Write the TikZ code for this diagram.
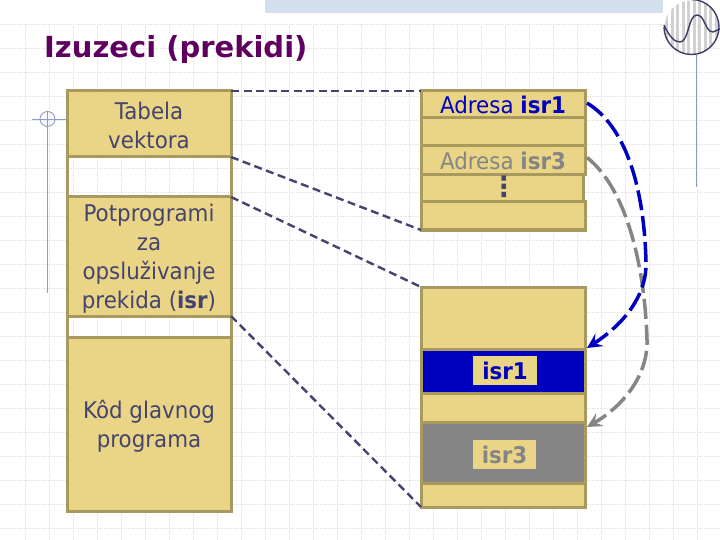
\documentclass[tikz,border=0pt]{standalone}
\usepackage{fontspec}
\setmainfont{DejaVu Sans}[FakeStretch=0.93]
\newfontfamily\titlefont{DejaVu Sans}
\usetikzlibrary{arrows.meta}
\definecolor{sand}{HTML}{EAD586}
\definecolor{edgec}{HTML}{A89A5E}
\definecolor{inkc}{HTML}{44446E}
\definecolor{bluec}{HTML}{0000C0}
\definecolor{grayc}{HTML}{858585}
\definecolor{titlec}{HTML}{5F0060}
\definecolor{bandc}{HTML}{D3DFEC}
\definecolor{gridc}{HTML}{E4E4E4}
\definecolor{decoc}{HTML}{8C9CC4}
\tikzset{
  x=1pt,y=-1pt,
  cell/.style={draw=edgec,line width=3pt,fill=sand,inner sep=0pt,outer sep=0pt},
  blank/.style={cell,fill=none},
  words/.style={inner sep=0pt,align=center,text=inkc,font=\fontsize{23}{29}\selectfont},
  tag/.style={fill=sand,inner sep=0pt,minimum width=64pt,minimum height=29pt,font=\fontsize{23}{29}\selectfont\bfseries},
  link/.style={draw=inkc,line width=2.4pt,dash pattern=on 8pt off 4.5pt},
  jump/.style={line width=3.5pt,dash pattern=on 20pt off 6pt,-{Stealth[length=15pt,width=15pt,inset=6pt]}},
}
\newcommand{\cellat}[6]{\node[#1,minimum width=#4pt-#3pt,minimum height=#6pt-#5pt] (#2) at ({(#3+#4)/2},{(#5+#6)/2}) {};}
\begin{document}
\begin{tikzpicture}
\useasboundingbox (0,0) rectangle (720,540);
\fill[white] (0,0) rectangle (720,540);
% background grid
\foreach \k in {1,...,29} \draw[gridc,line width=.7pt,densely dotted] (24*\k+1,24) -- (24*\k+1,540);
\foreach \k in {1,...,22} \draw[gridc,line width=.7pt,densely dotted] (0,24*\k) -- (720,24*\k);
\fill[bandc] (265,0) rectangle (663,13);
% logo
\begin{scope}
  \clip (691.5,27.5) circle (27);
  \foreach \k in {0,...,9} \fill[black!18] (665+5.5*\k,0) rectangle (668+5.5*\k,56);
\end{scope}
\draw[inkc!90!black,line width=1.4pt] (664,27) arc (180:0:27.5);
\draw[inkc!90!black,line width=1.4pt] (719,27) arc (0:-90:27.5);
\draw[inkc!90!black,line width=1.4pt] (664,25) .. controls (670,38) and (675,42) .. (680,42)
  .. controls (689,42) and (688,15) .. (697,15) .. controls (705,15) and (705,32) .. (713,32) -- (720,29);
\draw[decoc,line width=.9pt] (696.5,55) -- (696.5,187);
% left ornament
\draw[decoc,line width=.9pt] (47.5,111) -- (47.5,293);
\draw[decoc,line width=.9pt] (32,119) -- (66,119);
\draw[decoc,line width=.9pt] (47.5,119) circle (7.5);
% title
\node[anchor=base west,inner sep=0pt,text=titlec,font=\titlefont\fontsize{29}{32}\selectfont\bfseries] (title) at (44,58) {Izuzeci (prekidi)};
% left column
\cellat{cell}{tab}{67}{231}{91}{157}
\cellat{blank}{gapa}{67}{231}{157}{197}
\cellat{cell}{pot}{67}{231}{197}{316}
\cellat{blank}{gapb}{67}{231}{316}{337}
\cellat{cell}{kod}{67}{231}{337}{511}
\node[words] (tabt) at (149,125) {Tabela\\vektora};
\node[words] (pott) at (149,258.5) {Potprogrami\\za\\opslu\v{z}ivanje\\prekida (\textbf{isr})};
\node[words] (kodt) at (149,426) {K\^od glavnog\\programa};
% right upper column
\cellat{cell}{aone}{421}{585}{91}{118}
\node[words,text=bluec] (aonet) at (503,105) {Adresa \textbf{isr1}};
\cellat{cell}{atwo}{421}{585}{118}{146}
\cellat{cell}{adots}{421}{583}{175}{202}
\cellat{cell}{athree}{421}{585}{146}{175}
\node[words,text=grayc] (athreet) at (503,161) {Adresa \textbf{isr3}};
\cellat{cell}{afive}{421}{585}{202}{230}
\node[words,font=\fontsize{28}{30}\selectfont\bfseries] (dots) at (504,187) {⋮};
% right lower column
\cellat{cell}{lowa}{421}{585}{287}{349}
\cellat{cell,fill=bluec}{lowone}{421}{585}{349}{393}
\cellat{cell}{lowb}{421}{585}{393}{422}
\cellat{cell,fill=grayc}{lowthree}{421}{585}{422}{483}
\cellat{cell}{lowc}{421}{585}{483}{507}
\node[tag,text=bluec] (tone) at (505,370.5) {isr1};
\node[tag,text=grayc,minimum width=63pt] (tthree) at (504.5,454.5) {isr3};
% dashed links
\draw[link] (tab.north east) -- (aone.north west);
\draw[link] (tab.south east) -- (afive.south west);
\draw[link] (pot.north east) -- (lowa.north west);
\draw[link] (pot.south east) -- (lowc.south west);
% jumps
\coordinate (gmid) at (647,340);
\coordinate (bmid) at (646,262);
\draw[jump,grayc] ([xshift=2pt,yshift=3pt]athree.east) .. controls (628,190) and (645,270) .. (gmid) .. controls (648,378) and (620,408) .. ([yshift=-5pt,xshift=2pt]lowthree.north east);
\draw[jump,bluec] ([xshift=2pt,yshift=1.5pt]aone.east) .. controls (625,126) and (644,185) .. (bmid) .. controls (647,290) and (630,320) .. ([yshift=1pt,xshift=2pt]lowone.north east);
\end{tikzpicture}
\end{document}
